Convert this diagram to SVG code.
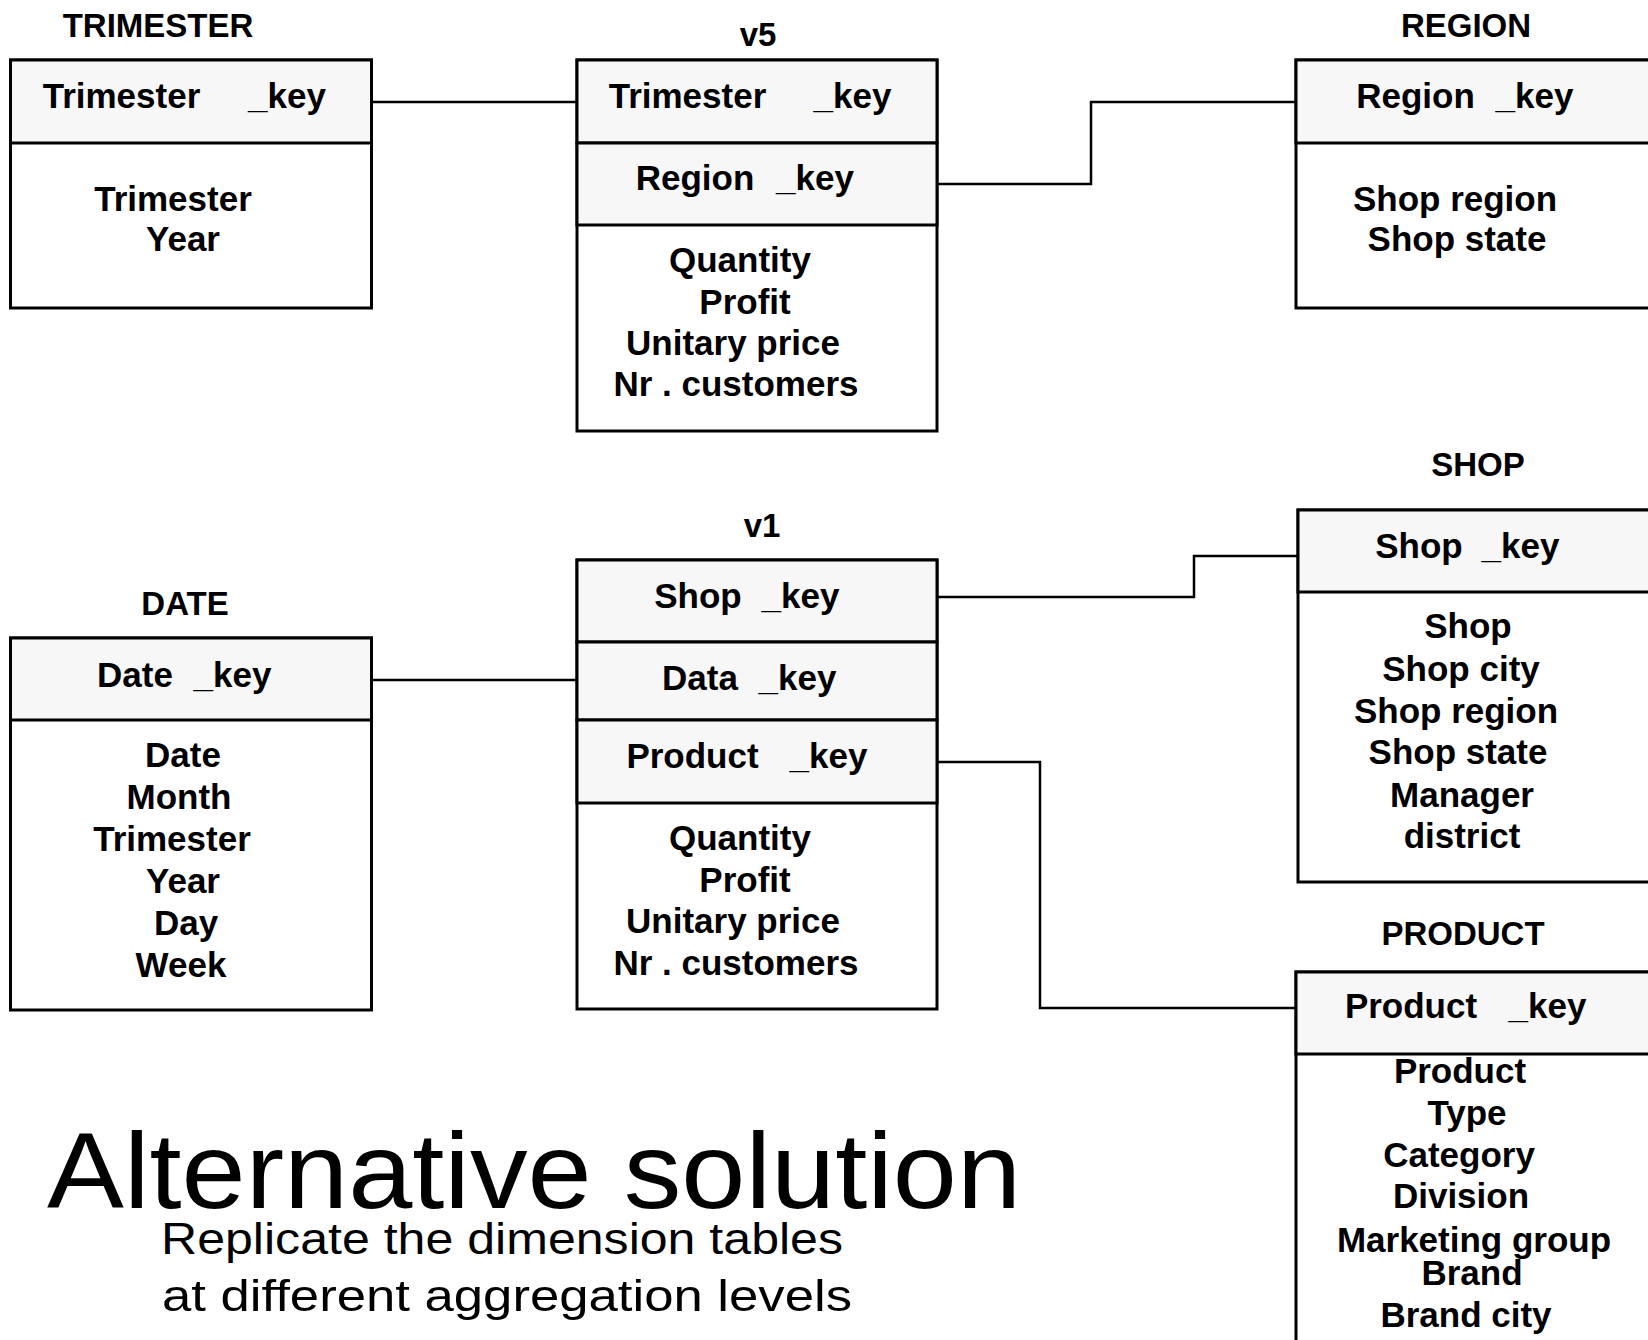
<svg xmlns="http://www.w3.org/2000/svg" width="1648" height="1340" viewBox="0 0 1648 1340">
<style>
.bx{fill:#fff;stroke:#000;stroke-width:3}
.hd{fill:#f7f7f7;stroke:#000;stroke-width:3}
.t{font-family:"Liberation Sans",Arial,sans-serif;font-weight:bold;font-size:35px;fill:#000;text-anchor:middle}
.ti{font-family:"Liberation Sans",Arial,sans-serif;font-weight:bold;font-size:33px;fill:#000;text-anchor:middle}
.cn{fill:none;stroke:#000;stroke-width:2.5}
.big{font-family:"Liberation Sans",Arial,sans-serif;fill:#000}
</style>
<rect width="1648" height="1340" fill="#fff"/>
<g id="connectors">
<path class="cn" d="M371,102 H577"/>
<path class="cn" d="M937,184 H1091 V102 H1296"/>
<path class="cn" d="M371,680 H577"/>
<path class="cn" d="M937,597 H1194 V556 H1298"/>
<path class="cn" d="M937,762 H1040 V1008 H1296"/>
</g>
<g id="trimester">
<text class="ti" x="158" y="37">TRIMESTER</text>
<rect class="bx" x="10.5" y="60" width="361" height="248"/>
<rect class="hd" x="10.5" y="60" width="361" height="83"/>
<text class="t" y="108"><tspan x="121.5">Trimester</tspan><tspan x="287">_key</tspan></text>
<text class="t" x="173" y="211">Trimester</text>
<text class="t" x="183" y="251">Year</text>
</g>
<g id="v5">
<text class="ti" x="758" y="46">v5</text>
<rect class="bx" x="577" y="60" width="360" height="371"/>
<rect class="hd" x="577" y="60" width="360" height="83"/>
<rect class="hd" x="577" y="143" width="360" height="82"/>
<text class="t" y="108"><tspan x="687.5">Trimester</tspan><tspan x="852.5">_key</tspan></text>
<text class="t" y="190"><tspan x="695">Region</tspan><tspan x="815">_key</tspan></text>
<text class="t" x="740" y="272">Quantity</text>
<text class="t" x="745" y="314">Profit</text>
<text class="t" x="733" y="355">Unitary price</text>
<text class="t" x="736" y="396">Nr . customers</text>
</g>
<g id="region">
<text class="ti" x="1466" y="37">REGION</text>
<rect class="bx" x="1296" y="60" width="364" height="248"/>
<rect class="hd" x="1296" y="60" width="364" height="83"/>
<text class="t" y="108"><tspan x="1415.5">Region</tspan><tspan x="1534.5">_key</tspan></text>
<text class="t" x="1455" y="211">Shop region</text>
<text class="t" x="1457" y="251">Shop state</text>
</g>
<g id="date">
<text class="ti" x="185" y="615">DATE</text>
<rect class="bx" x="10.5" y="638" width="361" height="372"/>
<rect class="hd" x="10.5" y="638" width="361" height="82"/>
<text class="t" y="687"><tspan x="135">Date</tspan><tspan x="232.5">_key</tspan></text>
<text class="t" x="183" y="767">Date</text>
<text class="t" x="179" y="809">Month</text>
<text class="t" x="172" y="851">Trimester</text>
<text class="t" x="183" y="893">Year</text>
<text class="t" x="186" y="935">Day</text>
<text class="t" x="181" y="977">Week</text>
</g>
<g id="v1">
<text class="ti" x="762" y="537">v1</text>
<rect class="bx" x="577" y="560" width="360" height="449"/>
<rect class="hd" x="577" y="560" width="360" height="82"/>
<rect class="hd" x="577" y="642" width="360" height="78"/>
<rect class="hd" x="577" y="720" width="360" height="83"/>
<text class="t" y="608"><tspan x="698">Shop</tspan><tspan x="800.5">_key</tspan></text>
<text class="t" y="690"><tspan x="700">Data</tspan><tspan x="797.5">_key</tspan></text>
<text class="t" y="768"><tspan x="692.5">Product</tspan><tspan x="828.5">_key</tspan></text>
<text class="t" x="740" y="850">Quantity</text>
<text class="t" x="745" y="892">Profit</text>
<text class="t" x="733" y="933">Unitary price</text>
<text class="t" x="736" y="975">Nr . customers</text>
</g>
<g id="shop">
<text class="ti" x="1478" y="476">SHOP</text>
<rect class="bx" x="1298" y="510" width="362" height="372"/>
<rect class="hd" x="1298" y="510" width="362" height="82"/>
<text class="t" y="558"><tspan x="1419">Shop</tspan><tspan x="1520.5">_key</tspan></text>
<text class="t" x="1468" y="638">Shop</text>
<text class="t" x="1461" y="681">Shop city</text>
<text class="t" x="1456" y="723">Shop region</text>
<text class="t" x="1458" y="764">Shop state</text>
<text class="t" x="1462" y="807">Manager</text>
<text class="t" x="1462" y="848">district</text>
</g>
<g id="product">
<text class="ti" x="1463" y="945">PRODUCT</text>
<rect class="bx" x="1296" y="972" width="364" height="390"/>
<rect class="hd" x="1296" y="972" width="364" height="82"/>
<text class="t" y="1018"><tspan x="1411">Product</tspan><tspan x="1547.5">_key</tspan></text>
<text class="t" x="1460" y="1083">Product</text>
<text class="t" x="1467" y="1125">Type</text>
<text class="t" x="1459" y="1167">Category</text>
<text class="t" x="1461" y="1208">Division</text>
<text class="t" x="1474" y="1252">Marketing group</text>
<text class="t" x="1472" y="1285">Brand</text>
<text class="t" x="1466" y="1327">Brand city</text>
</g>
<g id="caption">
<text class="big" x="47" y="1208" font-size="108" textLength="974" lengthAdjust="spacingAndGlyphs">Alternative solution</text>
<text class="big" x="161" y="1254" font-size="44" textLength="682" lengthAdjust="spacingAndGlyphs">Replicate the dimension tables</text>
<text class="big" x="162" y="1311" font-size="44" textLength="690" lengthAdjust="spacingAndGlyphs">at different aggregation levels</text>
</g>
</svg>
